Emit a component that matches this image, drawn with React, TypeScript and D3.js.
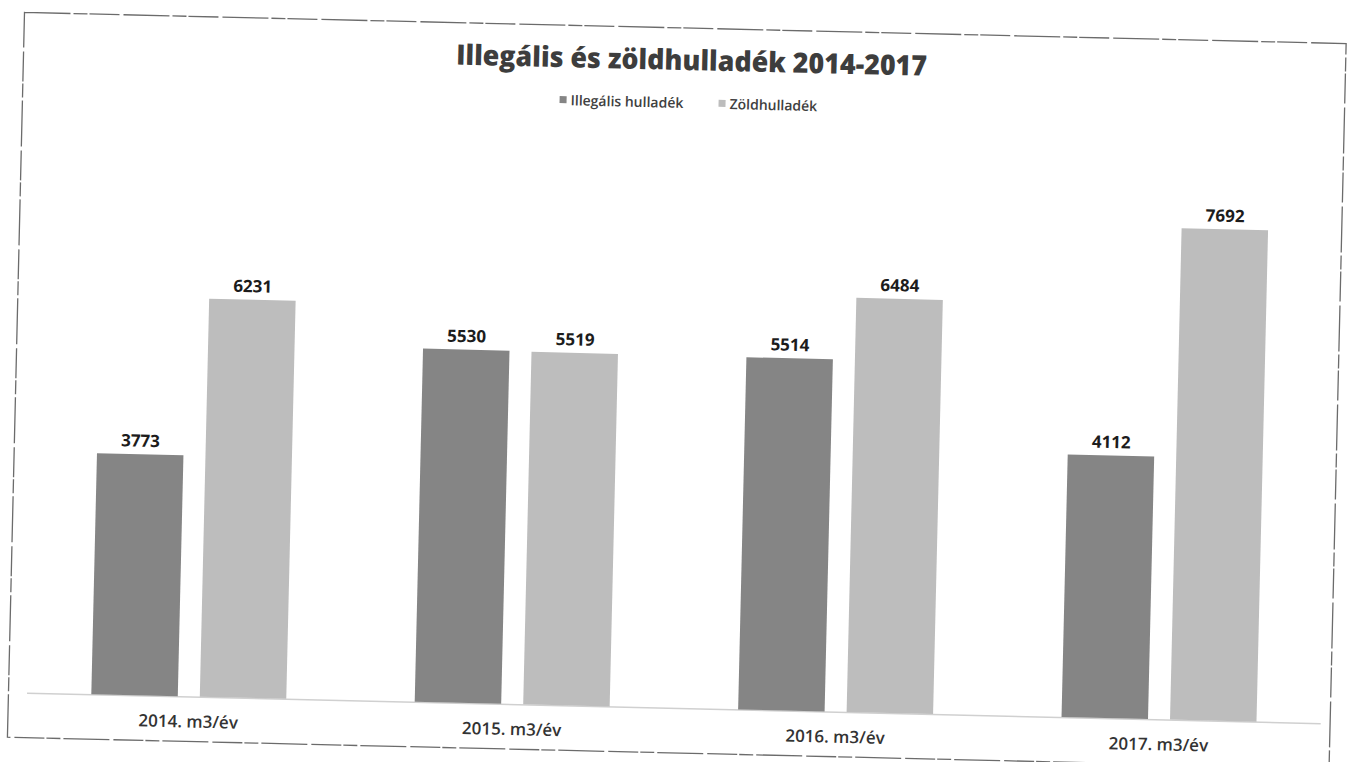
import React from "react";
import * as d3 from "d3";

const categories = ["2014. m3/év", "2015. m3/év", "2016. m3/év", "2017. m3/év"];
const seriesNames = ["Illegális hulladék", "Zöldhulladék"];
const illegalValues = [3773, 5530, 5514, 4112];
const greenValues = [6231, 5519, 6484, 7692];
const seriesColors = ["#858585", "#bdbdbd"];
const titleText = "Illegális és zöldhulladék 2014-2017";

const W = 1362;
const H = 762;
const plotLeft = 34.6;
const plotRight = 1328.6;
const baseY = 708;
const topY = 133;
const angle = 1.35;

export default function App() {
  const x0 = d3.scaleBand<string>().domain(categories).range([plotLeft, plotRight]).padding(0);
  const x1 = d3
    .scaleBand<string>()
    .domain(seriesNames)
    .range([0, x0.bandwidth()])
    .paddingInner(0.203)
    .paddingOuter(0.592);
  const y = d3.scaleLinear().domain([0, 9000]).range([baseY, topY]);
  const values = [illegalValues, greenValues];
  const font = "'Open Sans', 'DejaVu Sans', sans-serif";

  const legendItems = [
    { name: seriesNames[0], color: seriesColors[0], x: 553 },
    { name: seriesNames[1], color: seriesColors[1], x: 712 },
  ];

  return (
    <svg
      width={W}
      height={H}
      style={{ position: "absolute", left: 0, top: 0, background: "#fff" }}
      fontFamily={font}
    >
      <g transform={`rotate(${angle}, ${W / 2}, ${H / 2})`}>
        {/* scanned frame */}
        <rect
          x={16}
          y={28}
          width={1322}
          height={725}
          fill="none"
          stroke="#6b6b6b"
          strokeWidth={1.3}
          strokeDasharray="46 3 14 2 30 4"
        />
        <text
          x={684}
          y={59}
          textAnchor="middle"
          dominantBaseline="central"
          fontSize={28}
          fontWeight={800}
          fill="#3d3d3d"
          textLength={471}
          lengthAdjust="spacingAndGlyphs"
        >
          {titleText}
        </text>
        {legendItems.map((it) => (
          <g key={it.name}>
            <rect x={it.x} y={99} width={7} height={7} fill={it.color} />
            <text
              x={it.x + 11}
              y={102.5}
              dominantBaseline="central"
              fontSize={14}
              fontWeight={600}
              fill="#404040"
            >
              {it.name}
            </text>
          </g>
        ))}
        <line x1={plotLeft} x2={plotRight} y1={baseY + 0.5} y2={baseY + 0.5} stroke="#d0d0d0" strokeWidth={1.5} />
        {categories.map((c, i) => (
          <g key={c} transform={`translate(${x0(c)},0)`}>
            {seriesNames.map((s, j) => {
              const v = values[j][i];
              const bx = x1(s)!;
              const bw = x1.bandwidth();
              return (
                <g key={s}>
                  <rect x={bx} y={y(v)} width={bw} height={baseY - y(v)} fill={seriesColors[j]} />
                  <text
                    x={bx + bw / 2}
                    y={y(v) - 14}
                    textAnchor="middle"
                    dominantBaseline="central"
                    fontSize={17}
                    fontWeight={700}
                    fill="#1c1c1c"
                  >
                    {v}
                  </text>
                </g>
              );
            })}
            <text
              x={x0.bandwidth() / 2}
              y={732.5}
              textAnchor="middle"
              dominantBaseline="central"
              fontSize={17}
              fontWeight={600}
              fill="#333"
            >
              {c}
            </text>
          </g>
        ))}
      </g>
    </svg>
  );
}
